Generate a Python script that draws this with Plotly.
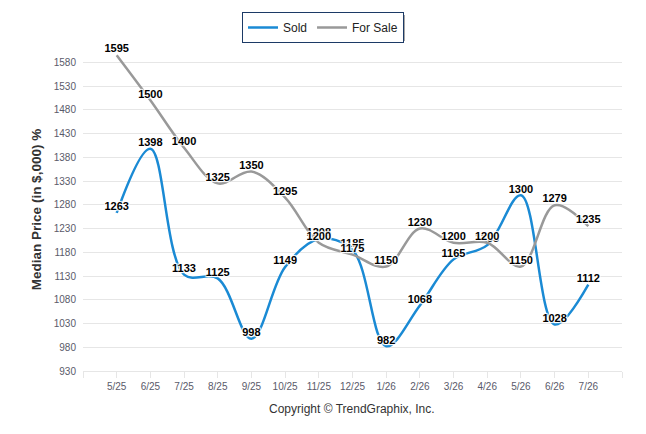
import plotly.graph_objects as go

months = ["5/25", "6/25", "7/25", "8/25", "9/25", "10/25", "11/25", "12/25",
          "1/26", "2/26", "3/26", "4/26", "5/26", "6/26", "7/26"]
sold = [1263, 1398, 1133, 1125, 998, 1149, 1208, 1185, 982, 1068, 1165, 1195, 1300, 1028, 1112]
for_sale = [1595, 1500, 1400, 1325, 1350, 1295, 1200, 1175, 1150, 1230, 1200, 1200, 1150, 1279, 1235]
y_ticks = list(range(930, 1581, 50))

x = list(range(len(months)))
label_font = dict(family="Liberation Sans, Arial, sans-serif", size=11, color="#000000",
                  weight="bold", shadow="1px 1px 1px #fff, -1px -1px 1px #fff, 1px -1px 1px #fff, -1px 1px 1px #fff")

fig = go.Figure()
fig.add_trace(go.Scatter(
    x=x, y=sold, name="Sold", mode="lines+text", cliponaxis=False,
    line=dict(color="#1a8ad4", width=2.5, shape="spline", smoothing=1),
    text=[str(v) for v in sold], textposition="top center", textfont=label_font,
))
fig.add_trace(go.Scatter(
    x=x, y=for_sale, name="For Sale", mode="lines+text", cliponaxis=False,
    line=dict(color="#999999", width=2.5, shape="spline", smoothing=1),
    text=[str(v) for v in for_sale], textposition="top center", textfont=label_font,
))

OFF = 8  # page body margin
W, H = 646 - OFF, 434 - OFF
L, R, T, B = 83 - OFF, 24, 48 - OFF, 63
pw, ph = W - L - R, H - T - B

def px_x(p):
    return (p - OFF - L) / pw

def px_y(p):
    return (H - B - (p - OFF)) / ph

# legend shadow
fig.add_shape(type="rect", xref="paper", yref="paper",
              x0=px_x(247), x1=px_x(405), y0=px_y(41), y1=px_y(15),
              fillcolor="rgba(0,0,0,0.35)", line=dict(width=0), layer="above")

tick_font = dict(family="Liberation Sans, Arial, sans-serif", size=10, color="#5a5a6a")

fig.update_layout(
    width=W, height=H,
    margin=dict(l=L, r=R, t=T, b=B, autoexpand=False),
    paper_bgcolor="white", plot_bgcolor="white",
    showlegend=True,
    legend=dict(orientation="h", xref="paper", x=px_x(323), xanchor="center",
                yref="paper", y=px_y(12), yanchor="top",
                bgcolor="white", bordercolor="#1c3a66", borderwidth=1,
                font=dict(family="Liberation Sans, Arial, sans-serif", size=12, color="#222")),
    xaxis=dict(range=[-1, len(months)], tickmode="array", automargin=False,
               tickvals=[-1] + x + [len(months)], ticktext=[""] + months + [""],
               showgrid=False, showline=True, linecolor="#e6e6e6", linewidth=1,
               ticks="outside", ticklen=6, tickcolor="#e6e6e6",
               tickfont=tick_font, zeroline=False),
    yaxis=dict(range=[930, 1610], tickmode="array", tickvals=y_ticks, automargin=False,
               showgrid=True, gridcolor="#e6e6e6", gridwidth=1, showline=False,
               zeroline=False, tickfont=tick_font, ticklabelstandoff=6,
               title=dict(text="Median Price (in $,000) %", standoff=9,
                          font=dict(family="Liberation Sans, Arial, sans-serif", size=13.5,
                                    color="#333", weight="bold"))),
    annotations=[dict(text="Copyright \u00a9 TrendGraphix, Inc.", xref="paper", yref="paper",
                      x=px_x(352), y=px_y(409), xanchor="center", yanchor="middle", showarrow=False,
                      font=dict(family="Liberation Sans, Arial, sans-serif", size=12, color="#333"))],
)

fig.write_html("out.html")
